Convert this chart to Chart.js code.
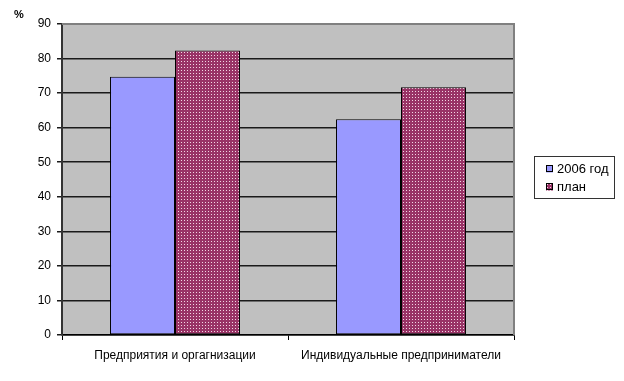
<!DOCTYPE html>
<html>
<head>
<meta charset="utf-8">
<script src="https://cdn.jsdelivr.net/npm/chart.js@4/dist/chart.umd.min.js"></script>
<style>
  html, body { margin: 0; padding: 0; background: #fff; }
  #wrap { width: 624px; height: 381px; position: relative; }
</style>
</head>
<body>
<div id="wrap"><canvas id="c" width="624" height="381"></canvas></div>
<script>
// ── data ─────────────────────────────────────────────
const categories = ['Предприятия и оргагнизации', 'Индивидуальные предприниматели'];
const seriesNames = ['2006 год', 'план'];
const values2006 = [74.7, 62.4];
const valuesPlan = [82.3, 71.7];
const yTicks = [0, 10, 20, 30, 40, 50, 60, 70, 80, 90];

const FONT = 'Liberation Sans, Arial, sans-serif';

// dotted magenta fill like the Excel pattern
function dotPattern() {
  const p = document.createElement('canvas');
  p.width = 3; p.height = 3;
  const g = p.getContext('2d');
  g.fillStyle = '#993366';
  g.fillRect(0, 0, 3, 3);
  g.fillStyle = '#f2d6e4';
  g.fillRect(1, 1, 1, 1);
  return g.createPattern(p, 'repeat');
}
const planFill = dotPattern();

// grey plot area + frame, legend box, "%" label
const decor = {
  id: 'decor',
  beforeDraw(chart) {
    const { ctx, chartArea: a } = chart;
    ctx.save();
    ctx.fillStyle = '#c0c0c0';
    ctx.fillRect(a.left, a.top, a.right - a.left, a.bottom - a.top);
    ctx.restore();
  },
  afterDraw(chart) {
    const { ctx, chartArea: a } = chart;
    ctx.save();
    // right + top frame in grey
    ctx.strokeStyle = '#808080';
    ctx.lineWidth = 2;
    ctx.beginPath();
    ctx.moveTo(a.left, a.top);
    ctx.lineTo(a.right, a.top);
    ctx.lineTo(a.right, a.bottom);
    ctx.stroke();

    // "%"
    ctx.fillStyle = '#000';
    ctx.font = 'bold 11px ' + FONT;
    ctx.textAlign = 'left';
    ctx.textBaseline = 'middle';
    ctx.fillText('%', 14, 15);

    // legend
    const lx = 534.5, ly = 156.5, lw = 80, lh = 42;
    ctx.fillStyle = '#fff';
    ctx.fillRect(lx, ly, lw, lh);
    ctx.strokeStyle = '#333';
    ctx.lineWidth = 1;
    ctx.strokeRect(lx, ly, lw, lh);
    ctx.font = '13px ' + FONT;
    chart.data.datasets.forEach((ds, i) => {
      const y = 169 + i * 18;
      ctx.fillStyle = ds.backgroundColor;
      ctx.fillRect(546, y - 3.5, 7, 7);
      ctx.strokeStyle = '#000';
      ctx.strokeRect(546.5, y - 3.5, 6, 6);
      ctx.fillStyle = '#000';
      ctx.fillText(ds.label, 557, y);
    });
    ctx.restore();
  }
};

new Chart(document.getElementById('c'), {
  type: 'bar',
  data: {
    labels: categories,
    datasets: [
      { label: seriesNames[0], data: values2006, backgroundColor: '#9999ff',
        borderColor: '#000', borderWidth: 1, borderSkipped: false,
        categoryPercentage: 0.575, barPercentage: 1 },
      { label: seriesNames[1], data: valuesPlan, backgroundColor: planFill,
        borderColor: '#000', borderWidth: 1, borderSkipped: false,
        categoryPercentage: 0.575, barPercentage: 1 }
    ]
  },
  options: {
    responsive: false,
    animation: false,
    layout: { padding: { top: 24, right: 110, left: 0, bottom: 0 } },
    plugins: {
      legend: { display: false },
      tooltip: { enabled: false }
    },
    scales: {
      x: {
        afterFit: s => { s.height = 46; },
        grid: { display: true, drawOnChartArea: false, drawTicks: true, offset: true,
                tickLength: 5, color: '#000' },
        border: { display: true, color: '#000', width: 1.5 },
        ticks: { color: '#000', font: { family: FONT, size: 12 }, padding: 8, maxRotation: 0 }
      },
      y: {
        min: 0, max: 90,
        afterFit: s => { s.width = 62; },
        afterBuildTicks: s => { s.ticks = yTicks.map(v => ({ value: v })); },
        grid: { color: '#1a1a1a', lineWidth: 1.5, tickLength: 5 },
        border: { display: true, color: '#333', width: 2 },
        ticks: { color: '#000', font: { family: FONT, size: 12 }, padding: 6 }
      }
    }
  },
  plugins: [decor]
});
</script>
</body>
</html>
